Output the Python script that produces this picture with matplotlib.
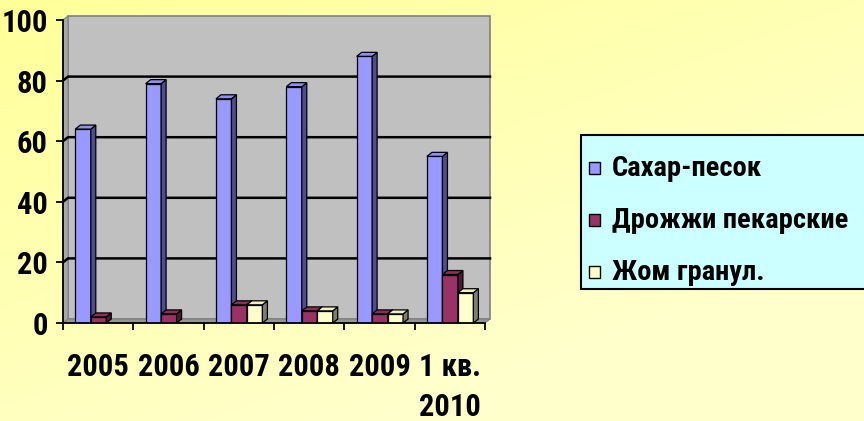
import numpy as np
import matplotlib
matplotlib.use('Agg')
import matplotlib.pyplot as plt
from matplotlib.patches import Polygon, Rectangle
import matplotlib.transforms as mtransforms
from matplotlib.colors import to_rgb

# ---------------- data ----------------
categories = ['2005', '2006', '2007', '2008', '2009', '1 кв.\n2010']
series_names = ['Сахар-песок', 'Дрожжи пекарские', 'Жом гранул.']
sugar = [64, 79, 74, 78, 88, 55]
yeast = [2, 3, 6, 4, 3, 16]
pulp = [0, 0, 6, 4, 3, 10]
y_ticks = [0, 20, 40, 60, 80, 100]

front_colors = ['#9999FF', '#993366', '#FFFFCC']
top_colors = ['#8F8FF0', '#86305A', '#EFEFC0']
side_colors = ['#4D4D8F', '#4D1A33', '#80806A']

FONT = ['Roboto Condensed', 'DejaVu Sans']
plt.rcParams['font.family'] = FONT
plt.rcParams['font.weight'] = 'bold'

W, H = 864, 421
fig = plt.figure(figsize=(W / 100, H / 100), dpi=100)

# ---------------- background gradient ----------------
bg = fig.add_axes([0, 0, 1, 1], zorder=-10)
bg.set_axis_off()
yy, xx = np.mgrid[0:1:200j, 0:1:400j]
t = np.clip(0.55 * xx + 0.75 * yy, 0, 1)[..., None]
c0 = np.array(to_rgb('#FFFF99'))
c1 = np.array(to_rgb('#FFFFCC'))
bg.imshow(c0 * (1 - t) + c1 * t, aspect='auto', extent=[0, 1, 0, 1])
bg.set_xlim(0, 1)
bg.set_ylim(0, 1)

# ---------------- main axes ----------------
ax = fig.add_axes([63 / W, (H - 323) / H, 422 / W, 303 / H])
ax.set_xlim(0, len(categories))
ax.set_ylim(0, 100)
ax.patch.set_visible(False)
for s in ['top', 'right']:
    ax.spines[s].set_visible(False)
for s in ['left', 'bottom']:
    ax.spines[s].set_linewidth(1.3)
    ax.spines[s].set_zorder(20)

DX, DY = 5, 4
ident = mtransforms.IdentityTransform()


def front(x, y):
    return ax.transData.transform((x, y))


def back(x, y):
    p = ax.transData.transform((x, y))
    return (p[0] + DX, p[1] + DY)


n = len(categories)
ymax = y_ticks[-1]
# back wall
ax.add_patch(Polygon([back(0, 0), back(n, 0), back(n, ymax), back(0, ymax)],
                     closed=True, transform=ident, fc='#C0C0C0', ec='#808080',
                     lw=1.2, zorder=0.5, clip_on=False))
# left wall
ax.add_patch(Polygon([front(0, 0), front(0, ymax), back(0, ymax), back(0, 0)],
                     closed=True, transform=ident, fc='#A8A8A8', ec='#808080',
                     lw=0.8, zorder=0.6, clip_on=False))
# floor
ax.add_patch(Polygon([front(0, 0), front(n, 0), back(n, 0), back(0, 0)],
                     closed=True, transform=ident, fc='#969696', ec='#808080',
                     lw=0.8, zorder=0.6, clip_on=False))
# gridlines
for v in y_ticks[1:-1]:
    pts = np.array([front(0, v), back(0, v), back(n, v)])
    ax.add_line(plt.Line2D(pts[:, 0], pts[:, 1], transform=ident, color='black',
                           lw=1.8, zorder=1, clip_on=False))

# ---------------- 3D bars ----------------
G0, BW = 0.175, 0.22
series = [sugar, yeast, pulp]
for i in range(n):
    for j, vals in enumerate(series):
        v = vals[i]
        if v <= 0:
            continue
        x0 = i + G0 + j * BW
        x1 = x0 + BW
        z = 3 + j
        ax.bar(x0, v, width=BW, align='edge', color=front_colors[j],
               edgecolor='black', lw=0.9, zorder=z)
        ax.add_patch(Polygon([front(x1, 0), front(x1, v), back(x1, v), back(x1, 0)],
                             closed=True, transform=ident, fc=side_colors[j],
                             ec='black', lw=0.9, zorder=z, clip_on=False))
        ax.add_patch(Polygon([front(x0, v), front(x1, v), back(x1, v), back(x0, v)],
                             closed=True, transform=ident, fc=top_colors[j],
                             ec='black', lw=0.9, zorder=z, clip_on=False))

# ---------------- ticks ----------------
ax.set_yticks(y_ticks)
ax.set_yticklabels([str(v) for v in y_ticks])
ax.tick_params(axis='y', direction='out', length=5, width=1.3, pad=6,
               labelsize=22, colors='black')
ax.set_xticks(range(n + 1))
ax.set_xticklabels([])
ax.tick_params(axis='x', which='major', direction='out', length=5, width=1.3)
ax.set_xticks(np.arange(n) + 0.5, minor=True)
ax.set_xticklabels(categories, minor=True)
ax.tick_params(axis='x', which='minor', length=0, pad=21, labelsize=22)
for lab in ax.get_xticklabels(minor=True) + ax.get_yticklabels():
    lab.set_fontweight('bold')
    lab.set_linespacing(1.4)

# ---------------- legend ----------------
lx0, ly_top, ly_bot = 581, 135, 289
fig.patches.append(Rectangle((lx0 / W, (H - ly_bot) / H), (W - lx0 + 20) / W,
                             (ly_bot - ly_top) / H, transform=fig.transFigure,
                             fc='#CCFFFF', ec='black', lw=1.5, zorder=5))
rows = [168, 220, 272]
for j, name in enumerate(series_names):
    yc = rows[j]
    fig.patches.append(Rectangle((589 / W, (H - yc - 6) / H), 11 / W, 12 / H,
                                 transform=fig.transFigure, fc=front_colors[j],
                                 ec='black', lw=1.0, zorder=6))
    fig.text(612 / W, (H - yc) / H, name, fontsize=20.5, fontweight='bold',
             va='center', ha='left', zorder=7)

fig.savefig('out.png', dpi=100)
